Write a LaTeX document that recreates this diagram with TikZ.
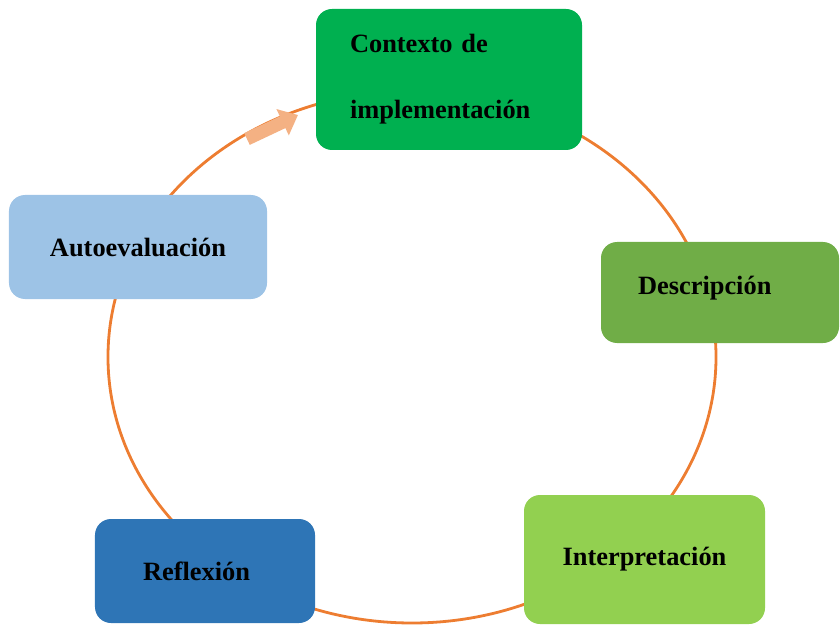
\documentclass[tikz,border=0pt]{standalone}
\usepackage{fontspec}
\setmainfont{Liberation Serif}
\usetikzlibrary{arrows.meta, positioning}
\definecolor{ringorange}{HTML}{ED7D31}
\definecolor{arrowsalmon}{HTML}{F4B183}
\definecolor{ctxgreen}{HTML}{00B050}
\definecolor{descgreen}{HTML}{70AD47}
\definecolor{intgreen}{HTML}{92D050}
\definecolor{reflblue}{HTML}{2E75B6}
\definecolor{autoblue}{HTML}{9DC3E6}
\tikzset{
    stage/.style={rounded corners=16bp, inner sep=0pt, align=left,
        font=\bfseries\fontsize{26.5}{32}\selectfont},
}

\begin{document}
\begin{tikzpicture}[x=1bp, y=-1bp]
\useasboundingbox (0, 0) rectangle (840, 625);
\clip (0, 0) rectangle (840, 625);

% cycle ring
\draw[ringorange, line width=2.8bp] (412, 357) ellipse [x radius=304, y radius=266];

% start arrow
\coordinate (arrtail) at (247, 139);
\coordinate (arrhead) at (298, 115);
\draw[arrowsalmon, line width=13bp, -{Triangle[width=28bp, length=17bp]}] (arrtail) -- (arrhead);

% stages
\node[stage, fill=ctxgreen, minimum width=266bp, minimum height=141bp, text width=198bp]
    (contexto) at (449, 79.5) {Contexto de\\[34bp]implementación};
\node[stage, fill=descgreen, minimum width=238bp, minimum height=101bp, text width=164bp,
    text depth=14bp]
    (descripcion) at (720, 292.5) {Descripción};
\node[stage, fill=intgreen, minimum width=241bp, minimum height=129bp, align=center]
    (interpretacion) at (644.5, 559.5) {Interpretación};
\node[stage, fill=reflblue, minimum width=220bp, minimum height=104bp, text width=124bp]
    (reflexion) at (205, 571) {Reflexión};
\node[stage, fill=autoblue, minimum width=258bp, minimum height=104bp, align=center]
    (autoevaluacion) at (138, 247) {Autoevaluación};
\end{tikzpicture}
\end{document}
